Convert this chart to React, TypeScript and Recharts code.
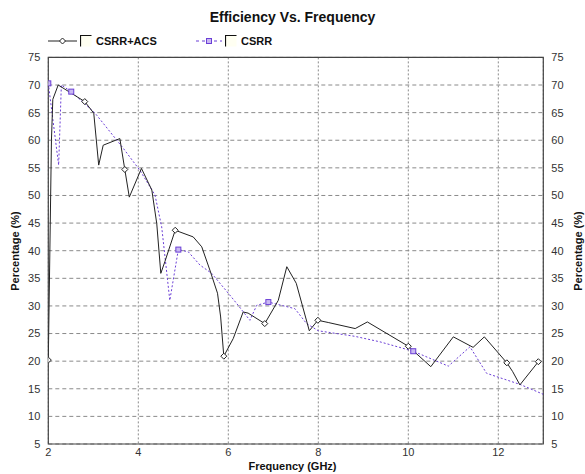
import React from 'react';
import { LineChart, Line, XAxis, YAxis, CartesianGrid, ReferenceArea } from 'recharts';

// CSRR+ACS efficiency (frequency in GHz, efficiency in %)
const acsFreq = [2.0, 2.07, 2.1, 2.22, 2.81, 3.01, 3.12, 3.22, 3.59, 3.7, 3.8, 4.07, 4.3, 4.41, 4.5, 4.59, 4.82, 5.22, 5.41, 5.59, 5.76, 5.83, 5.9, 6.11, 6.33, 6.44, 6.81, 7.11, 7.3, 7.51, 7.8, 7.99, 8.22, 8.82, 9.09, 10.0, 10.5, 11.0, 11.44, 11.69, 12.19, 12.32, 12.48, 12.89];
const acsEff = [20.2, 60.0, 67.4, 70.0, 67.0, 64.9, 55.5, 59.1, 60.3, 54.7, 49.7, 54.9, 51.0, 44.9, 35.9, 38.0, 43.7, 42.5, 40.7, 36.5, 32.3, 28.0, 20.9, 24.1, 28.9, 28.7, 26.8, 31.0, 37.1, 34.1, 25.5, 27.4, 27.0, 25.9, 27.1, 22.7, 19.0, 24.4, 22.5, 24.4, 19.7, 18.1, 15.7, 19.9];
const acsMarked = [2.0, 2.81, 3.7, 4.82, 5.9, 6.81, 7.99, 10.0, 12.19, 12.89];

// CSRR only
const csrrFreq = [2.0, 2.23, 2.29, 2.51, 3.04, 3.67, 4.04, 4.37, 4.52, 4.7, 4.89, 5.11, 5.37, 5.63, 6.0, 6.22, 6.48, 6.63, 6.89, 7.48, 7.74, 8.0, 8.81, 9.37, 10.11, 10.89, 11.37, 11.74, 12.48, 13.0];
const csrrEff = [70.3, 55.5, 70.0, 68.8, 64.9, 58.5, 54.5, 50.1, 44.3, 31.0, 40.2, 39.8, 37.4, 35.9, 32.3, 30.1, 27.4, 30.1, 30.7, 29.5, 26.8, 25.5, 24.5, 23.5, 21.8, 19.1, 22.6, 17.8, 15.8, 14.0];
const csrrMarked = [2.0, 2.51, 4.89, 6.89, 10.11];

const xTicks = [2, 4, 6, 8, 10, 12];
const yTicks = [5, 10, 15, 20, 25, 30, 35, 40, 45, 50, 55, 60, 65, 70, 75];

const acsData = acsFreq.map((f, i) => ({ f, v: acsEff[i], mark: acsMarked.includes(f) }));
const csrrData = csrrFreq.map((f, i) => ({ f, v: csrrEff[i], mark: csrrMarked.includes(f) }));

const BLACK = '#222';
const PURPLE = '#6b3fd6';
const FONT = '"Liberation Sans", Arial, sans-serif';

const tickStyle = { fill: '#333', fontSize: 11, fontFamily: FONT };

const diamondDot = (p: any) => {
  const { cx, cy, index, payload } = p;
  if (!payload || !payload.mark) return <g key={`d-${index}`} />;
  return (
    <path
      key={`d-${index}`}
      d={`M${cx},${cy - 3} L${cx + 3},${cy} L${cx},${cy + 3} L${cx - 3},${cy} Z`}
      fill="#fff"
      stroke={BLACK}
      strokeWidth={1}
    />
  );
};

const squareDot = (p: any) => {
  const { cx, cy, index, payload } = p;
  if (!payload || !payload.mark) return <g key={`s-${index}`} />;
  return <rect key={`s-${index}`} x={cx - 2.5} y={cy - 2.5} width={5} height={5} fill="#c9b8f2" stroke={PURPLE} strokeWidth={1} />;
};

const CheckIcon = () => (
  <svg width={12} height={12} style={{ display: 'block' }}>
    <rect x={0.5} y={0.5} width={11} height={11} fill="#fffff2" />
    <path d="M0.5,11.5 L0.5,0.5 L11.5,0.5" fill="none" stroke="#111" strokeWidth={1.2} />
  </svg>
);

const LegendItem = ({ left, lineW, color, dashed, square, label }: any) => (
  <div style={{ position: 'absolute', left, top: 34, display: 'flex', alignItems: 'center', height: 13 }}>
    <svg width={lineW} height={12} style={{ display: 'block' }}>
      <line x1={0} y1={6} x2={lineW} y2={6} stroke={color} strokeWidth={1} strokeDasharray={dashed ? '3 3' : undefined} />
      {square ? (
        <rect x={lineW / 2 - 2.5} y={3.5} width={5} height={5} fill="#c9b8f2" stroke={color} />
      ) : (
        <path d={`M${lineW / 2},3 L${lineW / 2 + 3},6 L${lineW / 2},9 L${lineW / 2 - 3},6 Z`} fill="#fff" stroke={color} />
      )}
    </svg>
    <div style={{ marginLeft: 3 }}><CheckIcon /></div>
    <span style={{ marginLeft: 4, fontFamily: FONT, fontWeight: 'bold', fontSize: 11, color: '#111' }}>{label}</span>
  </div>
);

const axisTitle = { fontFamily: FONT, fontWeight: 'bold' as const, fontSize: 11, color: '#111' };

export default function App() {
  return (
    <div style={{ position: 'absolute', left: 0, top: 0, width: 585, height: 474, background: '#fff' }}>
      <div style={{ position: 'absolute', left: 0, width: 585, top: 9, textAlign: 'center', fontFamily: FONT, fontWeight: 'bold', fontSize: 14, color: '#111' }}>
        Efficiency Vs. Frequency
      </div>
      <LegendItem left={48} lineW={29} color={BLACK} label="CSRR+ACS" />
      <LegendItem left={196} lineW={26} color={PURPLE} dashed square label="CSRR" />

      <LineChart width={585} height={474} data={acsData} margin={{ top: 57.4, right: 11.7, bottom: 0, left: 8.3 }}>
        <CartesianGrid horizontal vertical={false} stroke="#8a8a8a" strokeDasharray="4 3" />
        <CartesianGrid horizontal={false} vertical stroke="#8a8a8a" strokeDasharray="2 2" />
        <XAxis
          dataKey="f"
          type="number"
          domain={[2, 13]}
          ticks={xTicks}
          allowDataOverflow
          height={30}
          tickLine={false}
          tickSize={4}
          tickMargin={0}
          axisLine={false}
          tick={tickStyle}
        />
        <YAxis type="number" domain={[5, 75]} ticks={yTicks} width={40} tickLine={false} axisLine={false} tick={tickStyle} interval={0} />
        <YAxis yAxisId="r" orientation="right" type="number" domain={[5, 75]} ticks={yTicks} width={30} tickLine={false} axisLine={false} tick={tickStyle} interval={0} />
        <ReferenceArea x1={2} x2={13} y1={5} y2={75} fill="none" stroke="#444" strokeWidth={1.2} ifOverflow="visible" />
        <Line yAxisId="r" data={csrrData} dataKey="v" type="linear" stroke={PURPLE} strokeWidth={1} strokeDasharray="2 2" dot={squareDot} activeDot={false} isAnimationActive={false} />
        <Line data={acsData} dataKey="v" type="linear" stroke={BLACK} strokeWidth={1} dot={diamondDot} activeDot={false} isAnimationActive={false} />
      </LineChart>

      <div style={{ position: 'absolute', left: 0, width: 585, top: 460, textAlign: 'center', ...axisTitle }}>
        Frequency (GHz)
      </div>
      <div style={{ position: 'absolute', left: 15, top: 251, width: 0, height: 0 }}>
        <div style={{ position: 'absolute', transform: 'translate(-50%, -50%) rotate(-90deg)', whiteSpace: 'nowrap', ...axisTitle }}>
          Percentage (%)
        </div>
      </div>
      <div style={{ position: 'absolute', left: 578, top: 251, width: 0, height: 0 }}>
        <div style={{ position: 'absolute', transform: 'translate(-50%, -50%) rotate(-90deg)', whiteSpace: 'nowrap', ...axisTitle }}>
          Percentage (%)
        </div>
      </div>
    </div>
  );
}
